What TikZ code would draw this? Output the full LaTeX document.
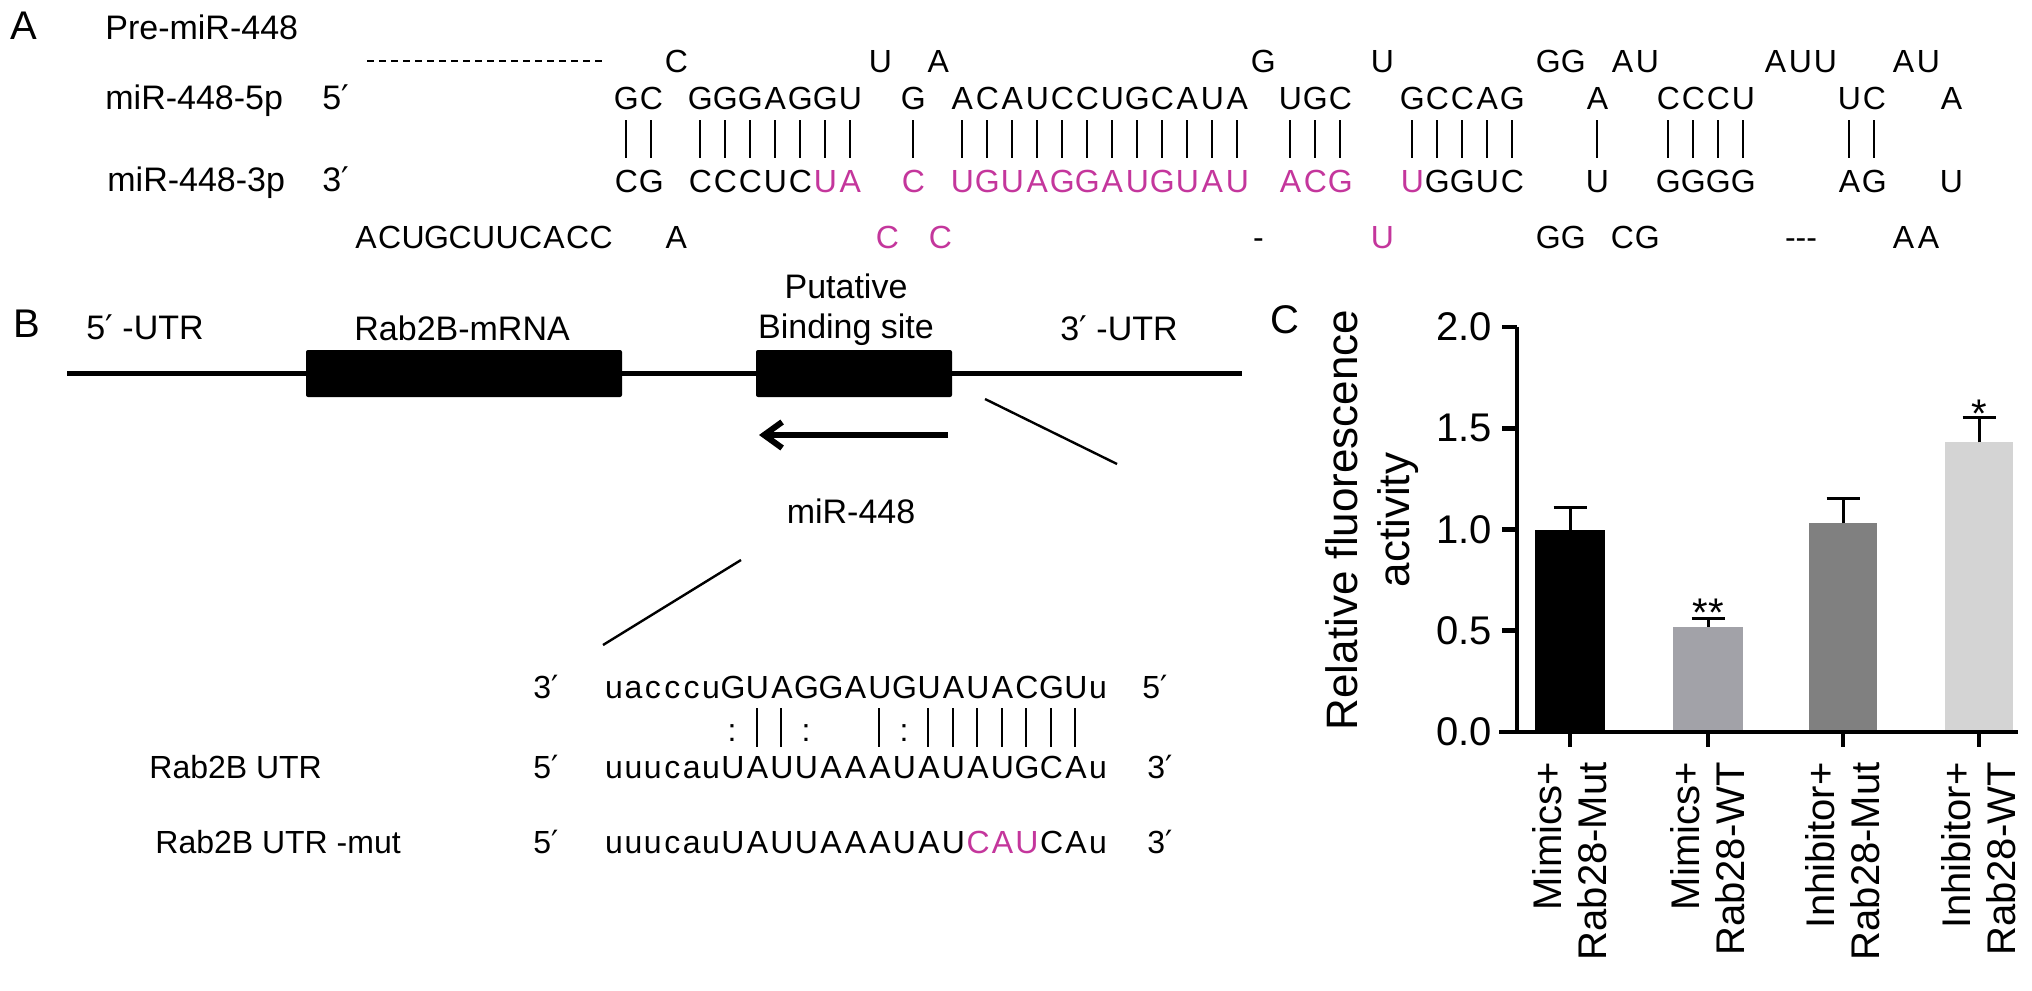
\documentclass[tikz,border=0pt]{standalone}
\usepackage{fontspec}
\setmainfont{Liberation Sans}
\newfontfamily\dvs{DejaVu Sans}
\usetikzlibrary{arrows.meta}
\definecolor{mag}{HTML}{C4369C}
\definecolor{barB}{HTML}{A2A2A8}
\definecolor{barC}{HTML}{808080}
\definecolor{barD}{HTML}{D4D4D4}
\makeatletter
\newcommand\sq[2]{\@tfor\sq@c:=#2\do{\makebox[#1][c]{\sq@c}}}
\makeatother
\newcommand\pr{{\dvs\char"2032}}
\newcommand\fA{\fontsize{16pt}{19pt}\selectfont}
\newcommand\fL{\fontsize{17pt}{20pt}\selectfont}
\newcommand\fP{\fontsize{20pt}{24pt}\selectfont}
\newcommand\fS{\fontsize{16pt}{19pt}\selectfont}
\newcommand\fC{\fontsize{20pt}{22.5pt}\selectfont}
\newcommand\chA[5]{\node[seqa,text=#5] (#1) at ({#2-12.5},#3) {\sq{12.5pt}{#4}};}
\tikzset{
  seqa/.style={font=\fA, inner sep=0pt, anchor=base west},
  lbl/.style={font=\fL, inner sep=0pt, anchor=base west},
  plet/.style={font=\fP, inner sep=0pt, anchor=base west},
  seqb/.style={font=\fS, inner sep=0pt, anchor=base west},
  pbar/.style={line width=1.3pt},
  thinln/.style={line width=1.2pt},
  axln/.style={line width=2.3pt},
  errln/.style={line width=1.5pt},
  gbox/.style={fill=black, draw=none, inner sep=0pt, rounded corners=1pt},
  clab/.style={font=\fC, inner sep=0pt}
}
\begin{document}
\begin{tikzpicture}[x=0.5pt,y=-0.5pt]
\useasboundingbox (0,0) rectangle (2032,990);
\fill[white] (0,0) rectangle (2032,990);

% ---------------- Panel A ----------------
\node[plet] (lA) at (10,40) {A};
\node[lbl] (pre) at (105,40) {Pre-miR-448};
\node[lbl] (m5) at (105,110) {miR-448-5p};
\node[lbl] (m3) at (107,191) {miR-448-3p};
\node[lbl] (p5) at (322,110) {5\pr};
\node[lbl] (p3) at (322,191) {3\pr};
\coordinate (dsL) at (367,61);
\coordinate (dsR) at (606,61);
\draw[line width=1pt, dash pattern=on 3.5pt off 2.5pt] (dsL) -- (dsR);

% row 1
\chA{r1a}{676}{73}{C}{black}
\chA{r1b}{880}{73}{U}{black}
\chA{r1c}{938}{73}{A}{black}
\chA{r1d}{1263}{73}{G}{black}
\chA{r1e}{1382}{73}{U}{black}
\chA{r1f}{1548}{73}{GG}{black}
\chA{r1g}{1622}{73}{AU}{black}
\chA{r1h}{1775}{73}{AUU}{black}
\chA{r1i}{1903}{73}{AU}{black}
% row 2
\chA{r2a}{626}{110}{GC}{black}
\chA{r2b}{700}{110}{GGGAGGU}{black}
\chA{r2c}{913}{110}{G}{black}
\chA{r2d}{962}{110}{ACAUCCUGCAUA}{black}
\chA{r2e}{1290}{110}{UGC}{black}
\chA{r2f}{1412}{110}{GCCAG}{black}
\chA{r2g}{1597}{110}{A}{black}
\chA{r2h}{1668}{110}{CCCU}{black}
\chA{r2i}{1849}{110}{UC}{black}
\chA{r2j}{1951}{110}{A}{black}
% bars
\foreach \x in {626,651,700,725,750,775,800,825,850,913,
  962,987,1012,1037,1062,1087,1112,1137,1162,1187,1212,1237,
  1290,1315,1340,1412,1437,1462,1487,1512,1597,1668,1693,1718,1743,1849,1874}
  \draw[pbar] (\x,120) -- (\x,158);
% row 4
\chA{r4a}{626}{192}{CG}{black}
\chA{r4b}{700}{192}{CCCUC}{black}
\chA{r4c}{825}{192}{UA}{mag}
\chA{r4d}{913}{192}{C}{mag}
\chA{r4e}{962}{192}{UGUAGGAUGUAU}{mag}
\chA{r4f}{1290}{192}{ACG}{mag}
\chA{r4g}{1412}{192}{U}{mag}
\chA{r4h}{1437}{192}{GGUC}{black}
\chA{r4i}{1597}{192}{U}{black}
\chA{r4j}{1668}{192}{GGGG}{black}
\chA{r4k}{1849}{192}{AG}{black}
\chA{r4l}{1951}{192}{U}{black}
% row 5
\node[seqa] (r5a) at (354,248) {\sq{11.75pt}{ACUGCUUCACC}};
\chA{r5b}{676}{248}{A}{black}
\chA{r5c}{887}{248}{C}{mag}
\chA{r5d}{940}{248}{C}{mag}
\chA{r5e}{1258}{248}{-}{black}
\chA{r5f}{1382}{248}{U}{mag}
\chA{r5g}{1548}{248}{GG}{black}
\chA{r5h}{1622}{248}{CG}{black}
\node[seqa, anchor=base] (r5i) at (1801,248) {-{}-{}-};
\chA{r5j}{1903}{248}{AA}{black}

% ---------------- Panel B ----------------
\node[plet] (lB) at (13,337) {B};
\node[lbl] (u5) at (86,339) {5\pr\ -UTR};
\node[lbl] (rab) at (354,340) {Rab2B-mRNA};
\node[lbl, anchor=base] (put) at (846,298) {Putative};
\node[lbl, anchor=base] (bind) at (846,338) {Binding site};
\node[lbl] (u3) at (1060,340) {3\pr\ -UTR};
\coordinate (mlL) at (67,373);
\coordinate (mlR) at (1242,373);
\draw[line width=2.5pt] (mlL) -- (mlR);
\node[gbox, minimum width=158pt, minimum height=23.5pt] (box1) at (464,373.5) {};
\node[gbox, minimum width=98pt, minimum height=23.5pt] (box2) at (854,373.5) {};
\coordinate (arS) at (948,435);
\coordinate (arE) at (759,435);
\draw[line width=3pt, -{Straight Barb[length=9pt,width=13pt]}] (arS) -- (arE);
\node[lbl, anchor=base] (mir) at (851,523) {miR-448};
\coordinate (dgA1) at (985,399);
\coordinate (dgA2) at (1117,464);
\draw[thinln] (dgA1) -- (dgA2);
\coordinate (dgB1) at (741,560);
\coordinate (dgB2) at (603,645);
\draw[thinln] (dgB1) -- (dgB2);

\node[seqb] (q3a) at (533,698) {3\pr};
\node[seqb] (sq1) at (604,698) {\sq{9.7pt}{uacccu}\sq{12.25pt}{GUAGGAUGUAUACGU}\sq{9.7pt}{u}};
\node[seqb] (q5a) at (1142,698) {5\pr};
\foreach \x in {757,781,879,928,953,977,1002,1026,1051,1075}
  \draw[pbar] (\x,708) -- (\x,747);
\foreach \x/\n in {732/c1,806/c2,904/c3}
  \node[seqb, anchor=base] (\n) at (\x,741) {:};
\node[seqb] (lr1) at (149,778) {Rab2B UTR};
\node[seqb] (q5b) at (533,778) {5\pr};
\node[seqb] (sq2) at (604,778) {\sq{9.7pt}{uuucau}\sq{12.25pt}{UAUUAAAUAUAUGCA}\sq{9.7pt}{u}};
\node[seqb] (q3b) at (1147,778) {3\pr};
\node[seqb] (lr2) at (155,853) {Rab2B UTR -mut};
\node[seqb] (q5c) at (533,853) {5\pr};
\node[seqb] (sq3) at (604,853) {\sq{9.7pt}{uuucau}\sq{12.25pt}{UAUUAAAUAU}\textcolor{mag}{\sq{12.25pt}{CAU}}\sq{12.25pt}{CA}\sq{9.7pt}{u}};
\node[seqb] (q3c) at (1147,853) {3\pr};

% ---------------- Panel C ----------------
\node[plet] (lC) at (1270,333) {C};
% bars
\fill[black] (1535,732) rectangle (1605,529.5);
\fill[barB] (1673,732) rectangle (1743,626.7);
\fill[barC] (1809,732) rectangle (1877,523);
\fill[barD] (1945,732) rectangle (2013,442.4);
% error bars
\foreach \xc/\yt/\ye in {1570/529.5/507, 1708/626.7/618, 1843/523/498, 1979/442.4/417}{
  \draw[errln] (\xc,\yt) -- (\xc,\ye);
  \draw[errln] ({\xc-16.5},\ye) -- ({\xc+16.5},\ye);
}
\node[clab, anchor=base] (st2) at (1708,626) {**};
\node[clab, anchor=base] (st4) at (1979,427) {*};
% axes
\coordinate (yaT) at (1517,327);
\coordinate (yaB) at (1517,732);
\coordinate (xaL) at (1499,732);
\coordinate (xaR) at (2018,732);
\draw[axln] (yaT) -- (yaB);
\draw[axln] (xaL) -- (xaR);
\foreach \v/\t in {0/0.0,0.5/0.5,1/1.0,1.5/1.5,2/2.0}{
  \draw[axln] (1502,{732-202.5*\v}) -- (1517,{732-202.5*\v});
  \node[clab, anchor=east] at (1492,{732-202.5*\v}) {\t};
}
\foreach \x in {1570,1708,1843,1979}
  \draw[axln] (\x,732) -- (\x,747);
\node[clab, rotate=90, anchor=east, align=right] (xl1) at (1570,762) {Mimics+\\Rab28-Mut};
\node[clab, rotate=90, anchor=east, align=right] (xl2) at (1708,762) {Mimics+\\Rab28-WT};
\node[clab, rotate=90, anchor=east, align=right] (xl3) at (1843,762) {Inhibitor+\\Rab28-Mut};
\node[clab, rotate=90, anchor=east, align=right] (xl4) at (1979,762) {Inhibitor+\\Rab28-WT};
\node[font=\fontsize{22pt}{26pt}\selectfont, inner sep=0pt, rotate=90, align=center] (yl) at (1372,520) {Relative fluorescence\\activity};
\end{tikzpicture}
\end{document}
